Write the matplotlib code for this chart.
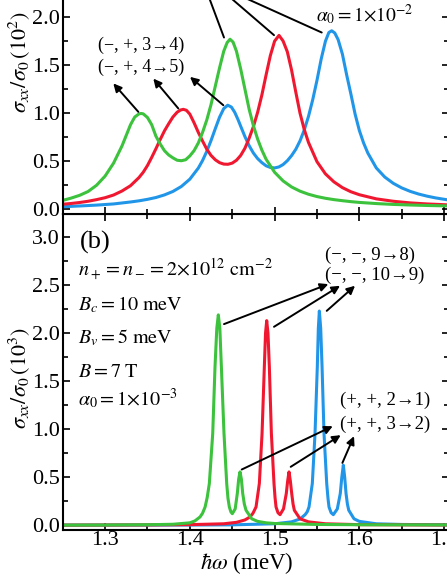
import numpy as np
import matplotlib
matplotlib.use("Agg")
import matplotlib.pyplot as plt
from matplotlib.ticker import MultipleLocator, FixedLocator, FormatStrFormatter

plt.rcParams['font.family'] = ['Liberation Serif', 'DejaVu Serif']
plt.rcParams['mathtext.fontset'] = 'stix'

green = '#3cc23c'
red = '#f01830'
blue = '#2196e8'

# panel (a): alpha0 = 1e-2
a_green_x = [1.25, 1.26, 1.27, 1.28, 1.29, 1.30, 1.31, 1.32, 1.325, 1.33, 1.335, 1.34, 1.3424, 1.345,
             1.35, 1.355, 1.36, 1.365, 1.37, 1.375, 1.38, 1.385, 1.39, 1.395, 1.40, 1.405, 1.41, 1.415,
             1.42, 1.425, 1.43, 1.435, 1.44, 1.444, 1.4474, 1.451, 1.455, 1.46, 1.465, 1.47, 1.475,
             1.48, 1.485, 1.49, 1.50, 1.51, 1.52, 1.53, 1.54, 1.55, 1.56, 1.57, 1.58, 1.59, 1.60,
             1.62, 1.64, 1.66, 1.68, 1.706]
a_green_y = [0.092, 0.116, 0.145, 0.185, 0.25, 0.345, 0.48, 0.66, 0.77, 0.88, 0.96, 0.993, 0.997, 0.993,
             0.955, 0.88, 0.76, 0.68, 0.61, 0.565, 0.535, 0.51, 0.505, 0.515, 0.555, 0.61, 0.69, 0.80,
             0.93, 1.09, 1.28, 1.47, 1.645, 1.735, 1.77, 1.74, 1.645, 1.46, 1.25, 1.04, 0.87,
             0.73, 0.615, 0.52, 0.385, 0.295, 0.232, 0.188, 0.156, 0.132, 0.114, 0.10, 0.089, 0.079, 0.071,
             0.059, 0.050, 0.044, 0.039, 0.034]

a_red_x = [1.25, 1.26, 1.27, 1.28, 1.29, 1.30, 1.31, 1.32, 1.33, 1.34, 1.345, 1.35, 1.355, 1.36, 1.365,
           1.37, 1.375, 1.38, 1.385, 1.389, 1.3923, 1.396, 1.40, 1.405, 1.41, 1.415, 1.42, 1.425, 1.43,
           1.435, 1.44, 1.445, 1.45, 1.455, 1.46, 1.465, 1.47, 1.475, 1.48, 1.485, 1.49, 1.495, 1.50,
           1.5052, 1.51, 1.515, 1.52, 1.525, 1.53, 1.535, 1.54, 1.55, 1.56, 1.57, 1.58, 1.59, 1.60,
           1.62, 1.64, 1.66, 1.68, 1.706]
a_red_y = [0.052, 0.06, 0.07, 0.083, 0.10, 0.12, 0.148, 0.19, 0.245, 0.33, 0.385, 0.455, 0.54, 0.63, 0.725,
           0.815, 0.89, 0.96, 1.01, 1.033, 1.04, 1.03, 0.99, 0.90, 0.80, 0.71, 0.625, 0.56, 0.515,
           0.485, 0.47, 0.468, 0.48, 0.51, 0.56, 0.635, 0.74, 0.86, 1.01, 1.19, 1.40, 1.60, 1.75,
           1.81, 1.752, 1.64, 1.45, 1.22, 1.0, 0.83, 0.695, 0.495, 0.368, 0.285, 0.225, 0.182, 0.151,
           0.108, 0.083, 0.066, 0.055, 0.045]

a_blue_x = [1.25, 1.27, 1.29, 1.31, 1.33, 1.34, 1.35, 1.36, 1.37, 1.38, 1.39, 1.40, 1.41, 1.415, 1.42,
            1.425, 1.43, 1.435, 1.44, 1.4447, 1.449, 1.453, 1.457, 1.46, 1.465, 1.47, 1.475, 1.48,
            1.485, 1.49, 1.495, 1.50, 1.505, 1.51, 1.515, 1.52, 1.525, 1.53, 1.535, 1.54, 1.545, 1.55,
            1.555, 1.56, 1.564, 1.5674, 1.571, 1.575, 1.58, 1.585, 1.59, 1.595, 1.60, 1.605, 1.61,
            1.62, 1.63, 1.64, 1.65, 1.66, 1.67, 1.68, 1.69, 1.706]
a_blue_y = [0.026, 0.034, 0.043, 0.055, 0.0755, 0.0875, 0.103, 0.122, 0.149, 0.185, 0.237, 0.313, 0.4285,
            0.507, 0.603, 0.715, 0.838, 0.957, 1.0475, 1.083, 1.064, 1.0085, 0.93, 0.864, 0.756, 0.661,
            0.585, 0.527, 0.485, 0.452, 0.435, 0.43, 0.44, 0.465, 0.505, 0.558, 0.624, 0.712, 0.825,
            0.967, 1.141, 1.342, 1.565, 1.75, 1.84, 1.858, 1.835, 1.765, 1.615, 1.40, 1.20, 0.99,
            0.82, 0.69, 0.585, 0.43, 0.335, 0.27, 0.222, 0.186, 0.158, 0.136, 0.118, 0.095]

# panel (b): alpha0 = 1e-3
b_green_x = [1.25, 1.30, 1.35, 1.38, 1.40, 1.406, 1.412, 1.415, 1.418, 1.4205, 1.423, 1.427, 1.4297,
             1.4318, 1.4336, 1.4354, 1.4372, 1.4403, 1.4435, 1.445, 1.4466, 1.4484, 1.4501, 1.4535,
             1.456, 1.4576, 1.4592, 1.4608, 1.4624, 1.4643, 1.4663, 1.473, 1.48, 1.49, 1.50, 1.55,
             1.60, 1.706]
b_green_y = [0.001, 0.002, 0.005, 0.01, 0.025, 0.045, 0.086, 0.125, 0.19, 0.29, 0.434, 0.955, 1.65,
             2.05, 2.19, 2.05, 1.65, 0.955, 0.434, 0.28, 0.19, 0.14, 0.12, 0.17,
             0.33, 0.48, 0.555, 0.48, 0.33, 0.22, 0.156, 0.067, 0.04, 0.025, 0.018, 0.008,
             0.005, 0.003]

b_red_x = [1.25, 1.35, 1.40, 1.44, 1.455, 1.465, 1.471, 1.4745, 1.4781, 1.482, 1.4852, 1.4879, 1.4893,
           1.4907, 1.4922, 1.4938, 1.4962, 1.4993, 1.5005, 1.5017, 1.504, 1.5064, 1.5105, 1.5138,
           1.5154, 1.517, 1.5186, 1.5202, 1.5218, 1.5233, 1.530, 1.54, 1.56, 1.60, 1.706]
b_red_y = [0.001, 0.003, 0.006, 0.015, 0.03, 0.055, 0.086, 0.125, 0.19, 0.434, 0.955, 1.65, 2.0,
           2.13, 2.0, 1.65, 0.955, 0.434, 0.29, 0.19, 0.13, 0.11, 0.17, 0.33,
           0.46, 0.555, 0.46, 0.33, 0.22, 0.156, 0.067, 0.035, 0.015, 0.006, 0.002]

b_blue_x = [1.25, 1.40, 1.45, 1.50, 1.52, 1.53, 1.536, 1.5385, 1.5406, 1.5445, 1.5477, 1.5504, 1.5516,
            1.5528, 1.5544, 1.556, 1.5583, 1.5615, 1.563, 1.5642, 1.5667, 1.5693, 1.574, 1.5775,
            1.5793, 1.5811, 1.5827, 1.5843, 1.5859, 1.5875, 1.5937, 1.60, 1.62, 1.65, 1.706]
b_blue_y = [0.001, 0.002, 0.004, 0.015, 0.035, 0.065, 0.11, 0.14, 0.19, 0.434, 0.955, 1.65, 2.05,
            2.23, 2.05, 1.65, 0.955, 0.434, 0.28, 0.19, 0.13, 0.11, 0.17, 0.33,
            0.50, 0.625, 0.50, 0.33, 0.22, 0.156, 0.067, 0.04, 0.015, 0.008, 0.004]

fig = plt.figure(figsize=(4.47, 5.78), dpi=100)
# axes run off the top and right edge, the picture is a crop
ax2 = fig.add_axes([0.1403, 0.0830, 0.8646, 0.5467])
ax1 = fig.add_axes([0.1403, 0.6297, 0.8646, 0.5467])

for ax in (ax1, ax2):
    ax.set_xlim(1.25, 1.706)
    ax.set_ylim(-0.05, 3.24)
    ax.xaxis.set_major_locator(MultipleLocator(0.1))
    ax.xaxis.set_minor_locator(MultipleLocator(0.05))
    ax.yaxis.set_major_locator(MultipleLocator(0.5))
    ax.yaxis.set_minor_locator(MultipleLocator(0.25))
    ax.xaxis.set_major_formatter(FormatStrFormatter('%.1f'))
    ax.yaxis.set_major_formatter(FormatStrFormatter('%.1f'))
    ax.tick_params(which='both', direction='in', top=True, right=True, width=1.2, labelsize=16, pad=2)
    ax.tick_params(which='major', length=5)
    ax.tick_params(which='minor', length=3.5)
    for s in ax.spines.values():
        s.set_linewidth(1.5)

# only the ticks that show inside the crop
ax1.yaxis.set_major_locator(FixedLocator([0.0, 0.5, 1.0, 1.5, 2.0]))
ax1.tick_params(labelbottom=False)
ax2.tick_params(axis='x', pad=1)

lw = 2.2
ax1.plot(a_blue_x, a_blue_y, color=blue, lw=lw, solid_joinstyle='round')
ax1.plot(a_red_x, a_red_y, color=red, lw=lw, solid_joinstyle='round')
ax1.plot(a_green_x, a_green_y, color=green, lw=lw, solid_joinstyle='round')

ax2.plot(b_blue_x, b_blue_y, color=blue, lw=lw, solid_joinstyle='round')
ax2.plot(b_red_x, b_red_y, color=red, lw=lw, solid_joinstyle='round')
ax2.plot(b_green_x, b_green_y, color=green, lw=lw, solid_joinstyle='round')

ap = dict(arrowstyle='-|>', color='black', lw=1.4, mutation_scale=12, shrinkA=0, shrinkB=0)

# panel (a) annotations
ax1.text(1.2918, 1.656, '(−, +, 3→4)', fontsize=13)
ax1.text(1.2918, 1.43, '(−, +, 4→5)', fontsize=13)
ax1.annotate('', xy=(1.3097, 1.31), xytext=(1.3392, 1.014), arrowprops=ap)
ax1.annotate('', xy=(1.3569, 1.36), xytext=(1.3864, 1.049), arrowprops=ap)
ax1.annotate('', xy=(1.4002, 1.378), xytext=(1.4395, 1.083), arrowprops=ap)
ax1.annotate('', xy=(1.4186, 2.3), xytext=(1.4403, 1.788), arrowprops=ap)
ax1.annotate('', xy=(1.4351, 2.3), xytext=(1.4993, 1.8125), arrowprops=ap)
ax1.annotate('', xy=(1.4401, 2.3), xytext=(1.5556, 1.84), arrowprops=ap)
ax1.text(1.5489, 1.96, r'$\alpha_0 = 1{\times}10^{-2}$', fontsize=14)

# panel (b) annotations
ax2.text(1.2704, 2.885, '(b)', fontsize=19)
params = [r'$n_+ = n_- = 2{\times}10^{12}\ \mathrm{cm}^{-2}$',
          r'$B_c = 10\ \mathrm{meV}$',
          r'$B_v = 5\ \mathrm{meV}$',
          r'$B = 7\ \mathrm{T}$',
          r'$\alpha_0 = 1{\times}10^{-3}$']
param_y = [2.587, 2.24, 1.893, 1.545, 1.25]
for t, yy in zip(params, param_y):
    ax2.text(1.2684, yy, t, fontsize=14.5)

ax2.text(1.5595, 2.767, '(−, −, 9→8)', fontsize=13.5)
ax2.text(1.5595, 2.559, '(−, −, 10→9)', fontsize=13.5)
ax2.annotate('', xy=(1.5634, 2.51), xytext=(1.4403, 2.094), arrowprops=ap)
ax2.annotate('', xy=(1.5772, 2.493), xytext=(1.4993, 2.066), arrowprops=ap)
ax2.annotate('', xy=(1.5949, 2.493), xytext=(1.5615, 2.232), arrowprops=ap)

ax2.text(1.5772, 1.257, '(+, +, 2→1)', fontsize=13.5)
ax2.text(1.5772, 1.007, '(+, +, 3→2)', fontsize=13.5)
ax2.annotate('', xy=(1.5686, 1.031), xytext=(1.4612, 0.58), arrowprops=ap)
ax2.annotate('', xy=(1.578, 0.9375), xytext=(1.519, 0.608), arrowprops=ap)
ax2.annotate('', xy=(1.5937, 0.927), xytext=(1.58, 0.649), arrowprops=ap)

ax1.set_ylabel(r'$\sigma_{xx}/\sigma_0\,(10^2)$', fontsize=16)
ax2.set_ylabel(r'$\sigma_{xx}/\sigma_0\,(10^3)$', fontsize=16)
ax1.yaxis.set_label_coords(-0.08, 0.48)
ax2.yaxis.set_label_coords(-0.08, 0.48)
ax2.set_xlabel(r'$\hbar\omega$ (meV)', fontsize=16.5)
ax2.xaxis.set_label_coords(0.476, -0.064)

fig.savefig('out.png', dpi=100)
